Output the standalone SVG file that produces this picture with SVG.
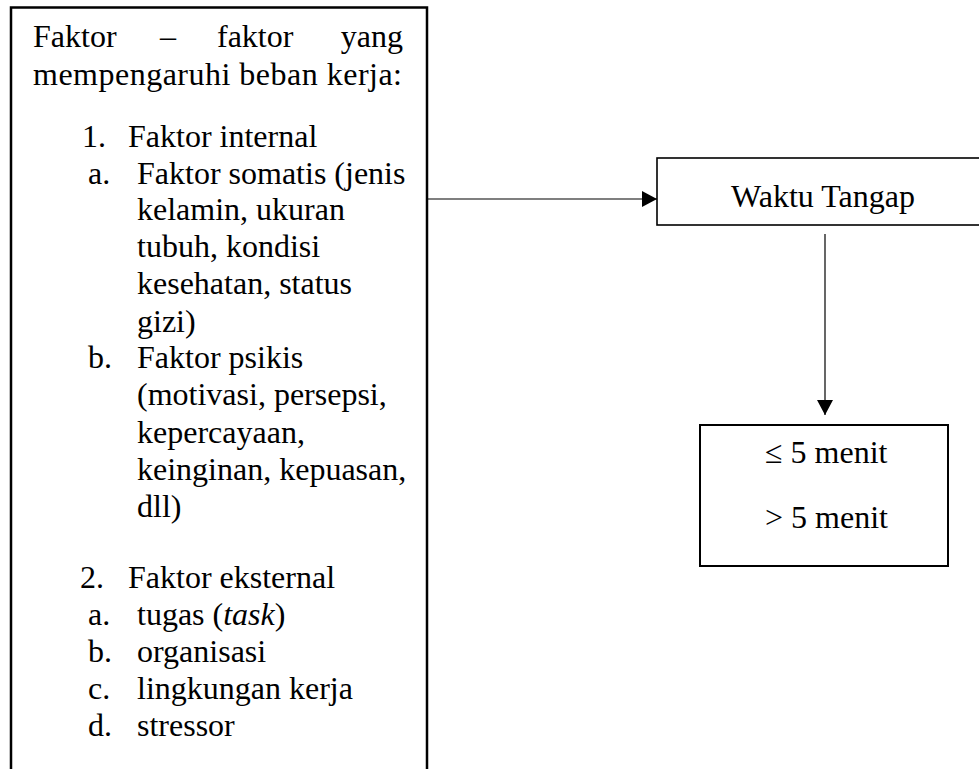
<svg xmlns="http://www.w3.org/2000/svg" width="979" height="769" viewBox="0 0 979 769">
<style>
text{font-family:"Liberation Serif","Times New Roman",serif;font-size:32px;fill:#000}
.box{fill:#fff;stroke:#000}
.con{stroke:#000;stroke-width:1.2;fill:none}
</style>
<defs>
<marker id="ah" markerWidth="15" markerHeight="16" refX="15" refY="8" orient="auto" markerUnits="userSpaceOnUse">
<path d="M0,0 L15,8 L0,16 Z" fill="#000"/>
</marker>
</defs>
<rect width="979" height="769" fill="#fff"/>
<g id="faktor">
<path class="box" d="M11,775 V7.5 H427 V775" stroke-width="2.5"/>
<text x="33" y="47">Faktor</text>
<text x="168" y="47" text-anchor="middle">–</text>
<text x="217" y="47">faktor</text>
<text x="403" y="47" text-anchor="end">yang</text>
<text x="33" y="85" textLength="369" lengthAdjust="spacing">mempengaruhi beban kerja:</text>
<text x="82" y="147">1.</text><text x="128" y="147">Faktor internal</text>
<text x="88" y="184">a.</text><text x="137" y="184">Faktor somatis (jenis</text>
<text x="137" y="220">kelamin, ukuran</text>
<text x="137" y="257">tubuh, kondisi</text>
<text x="137" y="294">kesehatan, status</text>
<text x="137" y="332">gizi)</text>
<text x="88" y="368">b.</text><text x="137" y="368">Faktor psikis</text>
<text x="137" y="405">(motivasi, persepsi,</text>
<text x="137" y="443">kepercayaan,</text>
<text x="137" y="480">keinginan, kepuasan,</text>
<text x="137" y="517">dll)</text>
<text x="80" y="588">2.</text><text x="128" y="588">Faktor eksternal</text>
<text x="88" y="625">a.</text><text x="137" y="625">tugas (<tspan font-style="italic">task</tspan>)</text>
<text x="88" y="662">b.</text><text x="137" y="662">organisasi</text>
<text x="88" y="699">c.</text><text x="137" y="699">lingkungan kerja</text>
<text x="88" y="736">d.</text><text x="137" y="736">stressor</text>
</g>
<g id="waktu">
<rect class="box" x="657" y="158" width="340" height="67" stroke-width="1.6"/>
<text x="823" y="207" text-anchor="middle">Waktu Tangap</text>
</g>
<g id="kategori">
<rect class="box" x="700" y="425" width="248" height="141" stroke-width="2"/>
<text x="765" y="463">≤ 5 menit</text>
<text x="765" y="528">&gt; 5 menit</text>
</g>
<g id="connectors">
<line class="con" x1="428" y1="199" x2="657" y2="199" marker-end="url(#ah)"/>
<line class="con" x1="825" y1="234" x2="825" y2="415" marker-end="url(#ah)"/>
</g>
</svg>
